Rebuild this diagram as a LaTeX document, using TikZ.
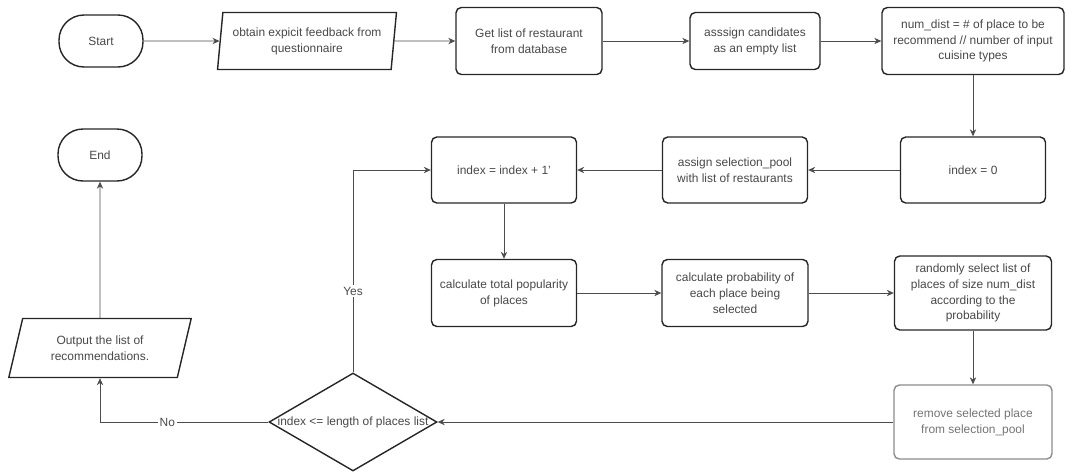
\documentclass[tikz,border=0pt]{standalone}
\usepackage{fontspec}
\setmainfont{Liberation Sans}
\usepackage{tikz}
\usetikzlibrary{positioning,arrows.meta,shapes.geometric}

\begin{document}
\begin{tikzpicture}[
    x=0.02cm, y=-0.02cm,
    font=\fontsize{6.8pt}{9pt}\selectfont,
    >={Stealth[length=4pt,width=3.6pt]},
    line/.style={draw=black!70, line width=0.45pt},
    box/.style={draw=black!85, line width=0.8pt, rounded corners=3pt, align=center, text=black!72, inner sep=1pt, minimum width=2.9cm, minimum height=1.32cm},
    fadedbox/.style={box, draw=black!45, text=black!55},
    termbox/.style={draw=black!85, line width=0.8pt, rounded corners=0.5cm, text=black!72, minimum width=1.68cm, minimum height=1.04cm},
    iobox/.style={trapezium, trapezium stretches=true, draw=black!85, line width=0.8pt, align=center, text=black!72, inner sep=1pt},
    decision/.style={diamond, draw=black!85, line width=0.8pt, inner sep=0pt, minimum width=3.36cm, minimum height=1.96cm},
    lbl/.style={fill=white, inner sep=1pt, text=black!70}
]
\useasboundingbox (0,0) rectangle (1065,471);

% top row
\node[termbox] (start) at (101,41) {Start};
\node[iobox, trapezium left angle=81, trapezium right angle=99, minimum width=3.6cm, minimum height=1.14cm] (obtain) at (307,41) {obtain expicit feedback from\\questionnaire};
\node[box, minimum width=2.92cm, minimum height=1.34cm] (getlist) at (529,41) {Get list of restaurant\\from database};
\node[box, minimum width=2.6cm, minimum height=1.14cm] (cands) at (755,41) {asssign candidates\\as an empty list};
\node[box, minimum width=3.64cm, minimum height=1.34cm] (numdist) at (973,41) {num\_dist = \# of place to be\\recommend // number of input\\cuisine types};

% second row
\node[termbox] (end) at (100,155) {End};
\node[box] (idxinc) at (504,170) {index = index + 1'};
\node[box] (selpool) at (735,170) {assign selection\_pool\\with list of restaurants};
\node[box] (idxzero) at (973,170) {index = 0};

% third row
\node[box, minimum height=1.34cm] (calctotal) at (504,293) {calculate total popularity\\of places};
\node[box, minimum width=2.92cm, minimum height=1.34cm] (calcprob) at (735,293) {calculate probability of\\each place being\\selected};
\node[box, minimum width=3.14cm, minimum height=1.48cm] (randsel) at (973,293) {randomly select list of\\places of size num\_dist\\according to the\\probability};

% bottom row
\node[iobox, trapezium left angle=72, trapezium right angle=108, minimum width=3.66cm, minimum height=1.18cm] (output) at (100,348) {Output the list of\\recommendations.};
\node[decision] (cond) at (353,422) {};
\node[text=black!72] (condtext) at (cond) {index <= length of places list};
\node[fadedbox, minimum width=3.16cm, minimum height=1.48cm] (remove) at (973,422) {remove selected place\\from selection\_pool};

\draw[line,->] (start) -- (obtain);
\draw[line,->] (obtain) -- (getlist);
\draw[line,->] (getlist) -- (cands);
\draw[line,->] (cands) -- (numdist);
\draw[line,->] (numdist) -- (idxzero);
\draw[line,->] (idxzero) -- (selpool);
\draw[line,->] (selpool) -- (idxinc);
\draw[line,->] (idxinc) -- (calctotal);
\draw[line,->] (calctotal) -- (calcprob);
\draw[line,->] (calcprob) -- (randsel);
\draw[line,->] (randsel) -- (remove);
\draw[line,->] (remove) -- (cond);
\draw[line,->] (cond) |- node[lbl, pos=0.2] {Yes} (idxinc);
\draw[line,->] (cond) -| node[lbl, pos=0.3] {No} (output);
\draw[line,->] (output) -- (end);
\end{tikzpicture}
\end{document}
